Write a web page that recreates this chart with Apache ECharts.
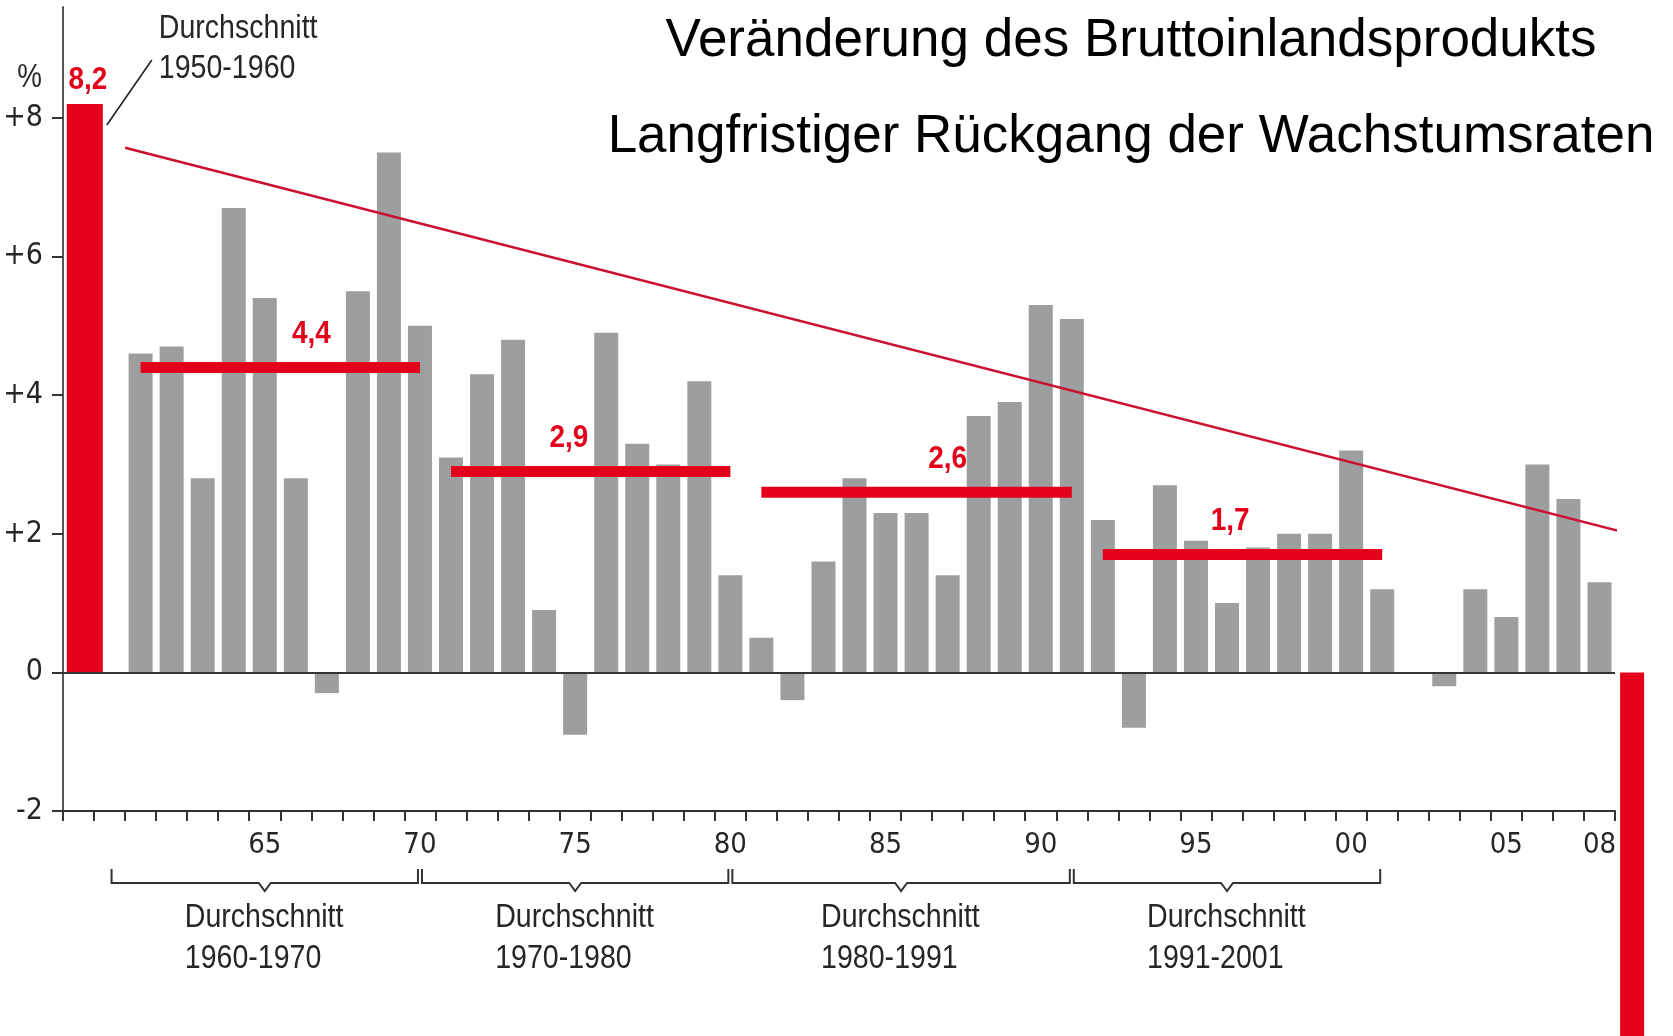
<!DOCTYPE html>
<html>
<head>
<meta charset="utf-8">
<script src="https://cdn.jsdelivr.net/npm/echarts@6/dist/echarts.min.js"></script>
<style>
html,body{margin:0;padding:0;background:#ffffff;}
#chart{width:1673px;height:1036px;}
</style>
</head>
<body>
<div id="chart"></div>
<script>
// ---------------- DATA ----------------
const years = ['1959','1960','1961','1962','1963','1964','1965','1966','1967','1968','1969',
  '1970','1971','1972','1973','1974','1975','1976','1977','1978','1979',
  '1980','1981','1982','1983','1984','1985','1986','1987','1988','1989',
  '1990','1991','1992','1993','1994','1995','1996','1997','1998','1999',
  '2000','2001','2002','2003','2004','2005','2006','2007','2008'];
const growth = [null, null, 4.6, 4.7, 2.8, 6.7, 5.4, 2.8, -0.3, 5.5, 7.5,
  5.0, 3.1, 4.3, 4.8, 0.9, -0.9, 4.9, 3.3, 3.0, 4.2,
  1.4, 0.5, -0.4, 1.6, 2.8, 2.3, 2.3, 1.4, 3.7, 3.9,
  5.3, 5.1, 2.2, -0.8, 2.7, 1.9, 1.0, 1.8, 2.0, 2.0,
  3.2, 1.2, 0.0, -0.2, 1.2, 0.8, 3.0, 2.5, 1.3];
const tickLabelYears = ['1965','1970','1975','1980','1985','1990','1995','2000','2005','2008'];
const yTickValues = [-2, 0, 2, 4, 6, 8];
const yUnitLabel = '%';

const avgFiftiesSlot = 1959;
const avgFifties = 8.2;
const avgFiftiesText = ['Durchschnitt', '1950-1960'];
const year2009 = 2009;
const growth2009 = -6.0;

const periodStart = [1960, 1970, 1980, 1991];
const periodEnd   = [1970, 1980, 1991, 2001];
const periodAvg   = [4.4, 2.9, 2.6, 1.7];
const periodTitle = ['Durchschnitt', 'Durchschnitt', 'Durchschnitt', 'Durchschnitt'];
const periodRange = ['1960-1970', '1970-1980', '1980-1991', '1991-2001'];

const trendYears  = [1960.5, 2009.4];
const trendValues = [7.57, 1.95];

const titleLines = ['Veränderung des Bruttoinlandsprodukts', 'Langfristiger Rückgang der Wachstumsraten'];

// ---------------- STYLE / LAYOUT ----------------
const RED = '#e2001a';
const TREND_RED = '#cc1030';
const GREY = '#9d9ea0';
const AXIS = '#333333';
const TXT = '#262626';
const AXISFONT = "'DejaVu Sans Condensed','Liberation Sans',sans-serif";
const SANS = "'Liberation Sans',Arial,Helvetica,sans-serif";
const NARROW_SCALE = 0.84;   // horizontal squeeze to imitate a condensed face
const BOLD_SCALE = 0.9;
const Y_MIN = -2, Y_MAX = 9.6;
const redBarGeom = [[-0.377, 1.16], [-0.335, 0.773]]; // [left offset, width] in band units
const avgLabelShift = [1.0, -0.7, 1.0, -0.4];           // label shift from line middle (years)

const fmt = v => String(v).replace('.', ',');

function narrowText(x, y, text, opts) {
  return {
    type: 'text', x: x, y: y, scaleX: opts.scale || NARROW_SCALE,
    style: {x: 0, y: 0, text: text, font: opts.font, fill: opts.fill || TXT,
      textAlign: opts.align || 'left', textVerticalAlign: 'middle'}
  };
}

const chart = echarts.init(document.getElementById('chart'), null, {renderer: 'canvas'});

const option = {
  animation: false,
  backgroundColor: '#ffffff',
  grid: {left: 63, top: 7, width: 1552, height: 804, containLabel: false},
  xAxis: [
    {
      type: 'category', data: years, gridIndex: 0, position: 'bottom',
      boundaryGap: true,
      axisLine: {show: true, onZero: false, lineStyle: {color: AXIS, width: 2}},
      axisTick: {show: true, interval: 0, alignWithLabel: false, length: 10, lineStyle: {color: AXIS, width: 2}},
      axisLabel: {
        show: true, interval: 0, margin: 20, hideOverlap: false,
        fontFamily: AXISFONT, fontSize: 29, color: TXT,
        formatter: v => tickLabelYears.indexOf(v) >= 0 ? v.slice(2) : ''
      },
      splitLine: {show: false}
    },
    {
      type: 'value', gridIndex: 0, show: false,
      min: 1958.5, max: 2008.5
    }
  ],
  yAxis: [{
    type: 'value', gridIndex: 0, min: Y_MIN, max: Y_MAX,
    axisLine: {show: true, lineStyle: {color: '#555', width: 2}},
    axisTick: {show: true, length: 11, customValues: yTickValues, lineStyle: {color: AXIS, width: 2}},
    axisLabel: {
      show: true, margin: 20, customValues: yTickValues,
      fontFamily: AXISFONT, fontSize: 30, color: TXT,
      formatter: v => (v > 0 ? '+' + v : String(v))
    },
    splitLine: {show: false}
  }],
  graphic: [
    {type: 'text', x: 1131, y: 41, style: {text: titleLines[0], font: '53px ' + SANS, fill: '#000', textAlign: 'center', textVerticalAlign: 'middle'}},
    {type: 'text', x: 1131, y: 137, style: {text: titleLines[1], font: '53px ' + SANS, fill: '#000', textAlign: 'center', textVerticalAlign: 'middle'}},
    narrowText(42, 78, yUnitLabel, {font: '33px ' + SANS, align: 'right'})
  ],
  series: [
    {
      name: 'BIP', type: 'bar', xAxisIndex: 0, yAxisIndex: 0,
      data: growth, barWidth: 24,
      itemStyle: {color: GREY},
      markLine: {
        silent: true, symbol: ['none', 'none'], label: {show: false},
        lineStyle: {color: AXIS, width: 2, type: 'solid'},
        data: [{yAxis: 0}]
      }
    },
    {
      name: 'trend', type: 'line', xAxisIndex: 1, yAxisIndex: 0, clip: false,
      data: trendYears.map((y, i) => [y, trendValues[i]]),
      symbol: 'none', lineStyle: {color: TREND_RED, width: 2.5}, z: 3
    },
    {
      name: 'redBars', type: 'custom', xAxisIndex: 1, yAxisIndex: 0, clip: false, z: 4,
      data: [[avgFiftiesSlot, avgFifties], [year2009, growth2009]],
      encode: {x: 0, y: 1},
      renderItem: function (params, api) {
        const i = params.dataIndex;
        const x = api.value(0), v = api.value(1);
        const band = api.size([1, 0])[0];
        const base = api.coord([x, 0]);
        const tip = api.coord([x, v]);
        const left = base[0] + redBarGeom[i][0] * band;
        const w = redBarGeom[i][1] * band;
        const top = Math.min(base[1], tip[1]);
        const children = [{
          type: 'rect',
          shape: {x: left, y: top, width: w, height: Math.abs(tip[1] - base[1])},
          style: {fill: RED}
        }];
        if (i === 0) {
          const right = left + w;
          children.push(narrowText(left + w / 2 + 3, top - 24, fmt(v),
            {font: 'bold 31px ' + SANS, fill: RED, align: 'center', scale: BOLD_SCALE}));
          children.push({type: 'line', shape: {x1: right + 4, y1: top + 21, x2: right + 49, y2: top - 44},
            style: {stroke: '#222', lineWidth: 1.6}});
          children.push(narrowText(right + 56, top - 75, avgFiftiesText[0], {font: '34px ' + SANS}));
          children.push(narrowText(right + 56, top - 35, avgFiftiesText[1], {font: '34px ' + SANS}));
        }
        return {type: 'group', children: children};
      }
    },
    {
      name: 'periods', type: 'custom', xAxisIndex: 1, yAxisIndex: 0, clip: false, z: 5,
      data: periodStart.map((s, i) => [s, periodEnd[i], periodAvg[i]]),
      encode: {x: [0, 1], y: 2},
      renderItem: function (params, api) {
        const i = params.dataIndex;
        const s = api.value(0), e = api.value(1), a = api.value(2);
        const p1 = api.coord([s + 1, a]);
        const p2 = api.coord([e, a]);
        const labelX = api.coord([(s + 1 + e) / 2 + avgLabelShift[i], a])[0];
        const axisY = api.coord([s, Y_MIN])[1];
        const b1 = api.coord([s, Y_MIN])[0] + 2;
        const b2 = api.coord([e, Y_MIN])[0] - 2;
        const bm = api.coord([(s + e) / 2, Y_MIN])[0];
        const yl = axisY + 72;
        return {
          type: 'group',
          children: [
            {type: 'rect', shape: {x: p1[0], y: p1[1] - 5.5, width: p2[0] - p1[0], height: 11}, style: {fill: RED}},
            narrowText(labelX, p1[1] - 33, fmt(a), {font: 'bold 31px ' + SANS, fill: RED, align: 'center', scale: BOLD_SCALE}),
            {type: 'polyline', shape: {points: [[b1, axisY + 58], [b1, yl], [bm - 6, yl], [bm, yl + 8], [bm + 6, yl], [b2, yl], [b2, axisY + 58]]},
              style: {stroke: AXIS, lineWidth: 2, fill: null}},
            narrowText(bm - 80, axisY + 107, periodTitle[i], {font: '34px ' + SANS}),
            narrowText(bm - 80, axisY + 148, periodRange[i], {font: '34px ' + SANS})
          ]
        };
      }
    }
  ]
};
chart.setOption(option);
</script>
</body>
</html>
